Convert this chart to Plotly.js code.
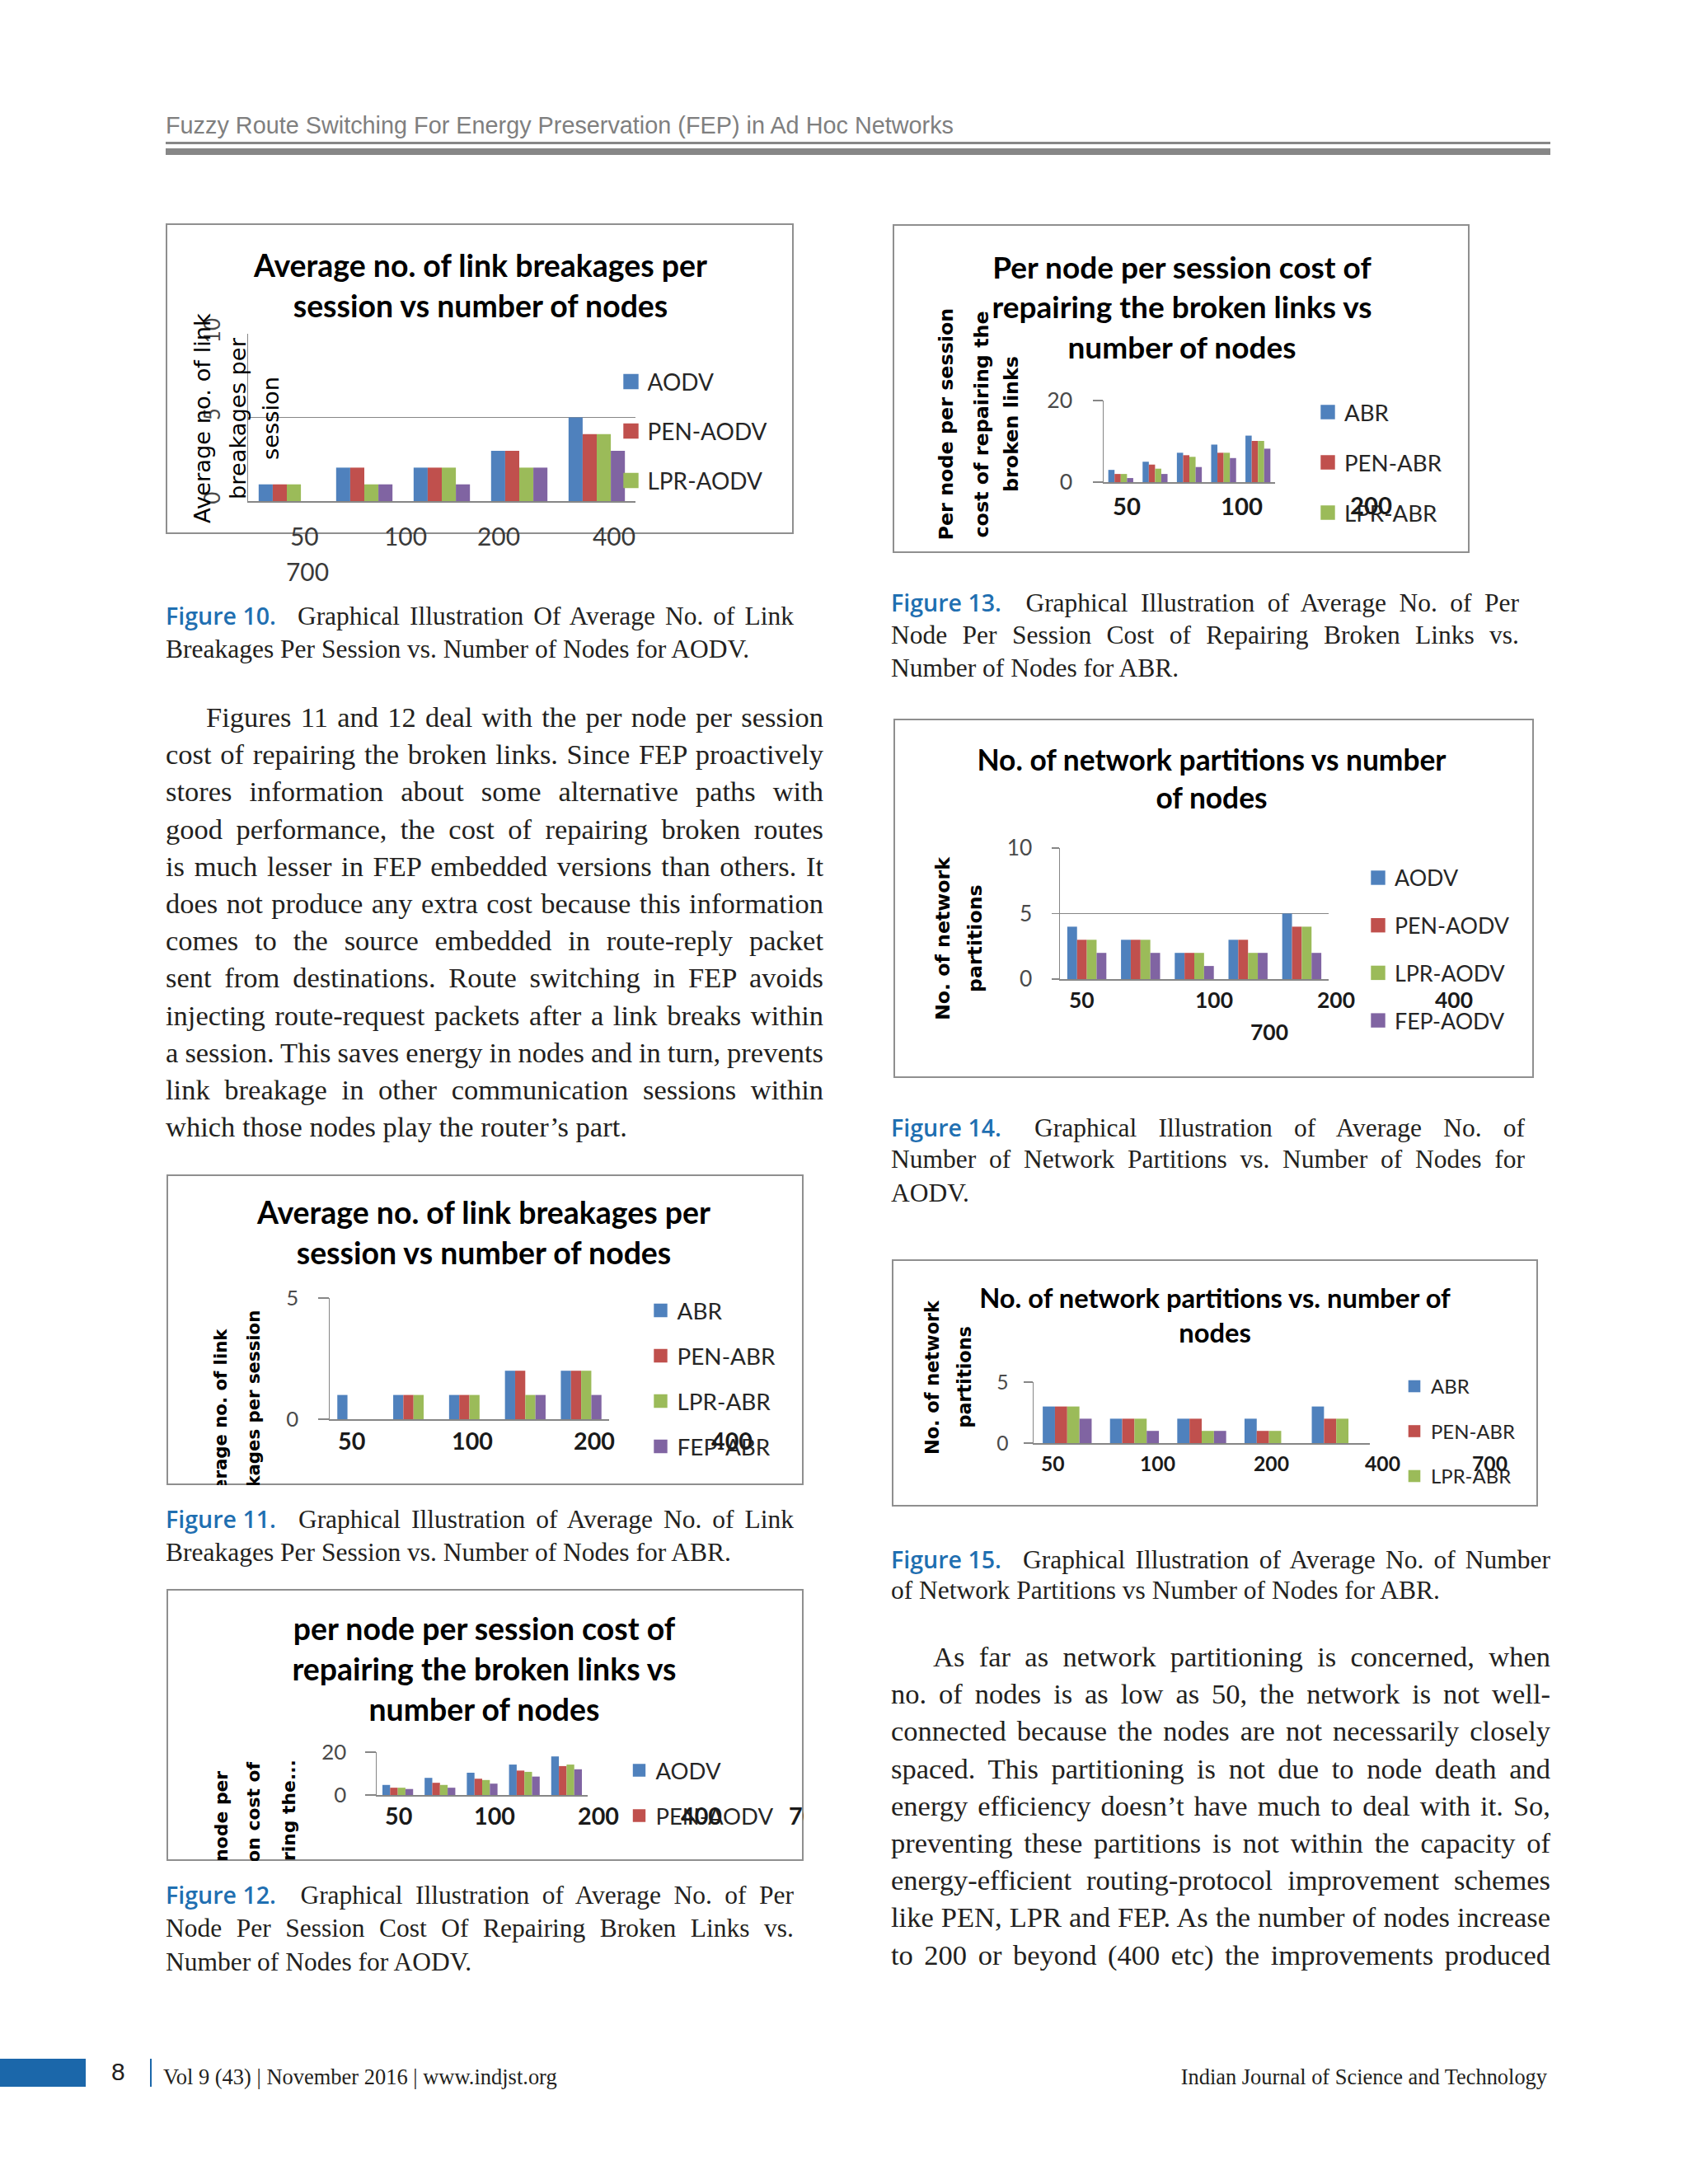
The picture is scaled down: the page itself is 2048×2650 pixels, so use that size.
<!DOCTYPE html>
<html>
<head>
<meta charset="utf-8">
<script src="https://cdn.plot.ly/plotly-3.0.1.min.js"></script>
<style>
  html, body { margin:0; padding:0; background:#ffffff; }
  body { position:relative; width:2048px; height:2650px; overflow:hidden; }
  .box { position:absolute; border:2px solid #8f8f8f; box-sizing:border-box; background:#fff; }
  .chart { position:absolute; }
  .tl { position:absolute; white-space:nowrap; color:#231f20; }
  .fig { font-family:'Open Sans', sans-serif; font-weight:600; color:#1f6fb1; word-spacing:0; }
  .rule { position:absolute; background:#878787; }
</style>
</head>
<body>
<script>
// ---------------- DATA ----------------
const NODES = ['50', '100', '200', '400', '700'];
const AODV_NAMES = ['AODV', 'PEN-AODV', 'LPR-AODV', 'FEP-AODV'];
const ABR_NAMES  = ['ABR', 'PEN-ABR', 'LPR-ABR', 'FEP-ABR'];

// Figure 10: average no. of link breakages per session (AODV family)
const F10_AODV     = [1, 2, 2, 3, 5];
const F10_PEN_AODV = [1, 2, 2, 3, 4];
const F10_LPR_AODV = [1, 1, 2, 2, 4];
const F10_FEP_AODV = [0, 1, 1, 2, 3];
// Figure 11: average no. of link breakages per session (ABR family)
const F11_ABR     = [1, 1, 1, 2, 2];
const F11_PEN_ABR = [0, 1, 1, 2, 2];
const F11_LPR_ABR = [0, 1, 1, 1, 2];
const F11_FEP_ABR = [0, 0, 0, 1, 1];
// Figure 12: per node per session cost of repairing broken links (AODV family)
const F12_AODV     = [4.7, 8.0, 10.4, 14.2, 18.0];
const F12_PEN_AODV = [3.4, 5.7, 7.6, 11.4, 13.5];
const F12_LPR_AODV = [3.4, 4.7, 7.0, 10.8, 14.2];
const F12_FEP_AODV = [2.8, 3.4, 5.3, 8.6, 12.0];
// Figure 13: per node per session cost of repairing broken links (ABR family)
const F13_ABR     = [3.0, 5.0, 7.2, 9.2, 11.4];
const F13_PEN_ABR = [2.0, 4.3, 6.6, 7.2, 10.1];
const F13_LPR_ABR = [2.0, 3.3, 6.2, 7.2, 10.1];
const F13_FEP_ABR = [1.0, 2.0, 3.7, 5.9, 8.2];
// Figure 14: no. of network partitions (AODV family)
const F14_AODV     = [4, 3, 2, 3, 5];
const F14_PEN_AODV = [3, 3, 2, 3, 4];
const F14_LPR_AODV = [3, 3, 2, 2, 4];
const F14_FEP_AODV = [2, 2, 1, 2, 2];
// Figure 15: no. of network partitions (ABR family)
const F15_ABR     = [3, 2, 2, 2, 3];
const F15_PEN_ABR = [3, 2, 2, 1, 2];
const F15_LPR_ABR = [3, 2, 1, 1, 2];
const F15_FEP_ABR = [2, 1, 1, 0, 0];

// ---------------- PAGE TEXT ----------------
const HEADER_TEXT = 'Fuzzy Route Switching For Energy Preservation (FEP) in Ad Hoc Networks';
const LEFT_PARA = [
  'Figures 11 and 12 deal with the per node per session',
  'cost of repairing the broken links. Since FEP proactively',
  'stores information about some alternative paths with',
  'good performance, the cost of repairing broken routes',
  'is much lesser in FEP embedded versions than others. It',
  'does not produce any extra cost because this information',
  'comes to the source embedded in route-reply packet',
  'sent from destinations. Route switching in FEP avoids',
  'injecting route-request packets after a link breaks within',
  'a session. This saves energy in nodes and in turn, prevents',
  'link breakage in other communication sessions within',
  'which those nodes play the router\u2019s part.'
];
const RIGHT_PARA = [
  'As far as network partitioning is concerned, when',
  'no. of nodes is as low as 50, the network is not well-',
  'connected because the nodes are not necessarily closely',
  'spaced. This partitioning is not due to node death and',
  'energy efficiency doesn\u2019t have much to deal with it. So,',
  'preventing these partitions is not within the capacity of',
  'energy-efficient routing-protocol improvement schemes',
  'like PEN, LPR and FEP. As the number of nodes increase',
  'to 200 or beyond (400 etc) the improvements produced'
];
const CAPTIONS = [
  {x:201,  y:[749, 790], w:[762, null], fig:'Figure 10.',
   lines:['Graphical Illustration Of Average No. of Link', 'Breakages Per Session vs. Number of Nodes for AODV.']},
  {x:201,  y:[1845, 1886], w:[762, null], fig:'Figure 11.',
   lines:['Graphical Illustration of Average No. of Link', 'Breakages Per Session vs. Number of Nodes for ABR.']},
  {x:201,  y:[2301, 2342, 2383], w:[762, 762, null], fig:'Figure 12.',
   lines:['Graphical Illustration of Average No. of Per', 'Node Per Session Cost Of Repairing Broken Links vs.', 'Number of Nodes for AODV.']},
  {x:1081, y:[733, 773, 813], w:[762, 762, null], fig:'Figure 13.',
   lines:['Graphical Illustration of Average No. of Per', 'Node Per Session Cost of Repairing Broken Links vs.', 'Number of Nodes for ABR.']},
  {x:1081, y:[1370, 1409, 1450], w:[769, 769, null], fig:'Figure 14.',
   lines:['Graphical Illustration of Average No. of', 'Number of Network Partitions vs. Number of Nodes for', 'AODV.']},
  {x:1081, y:[1894, 1932], w:[800, null], fig:'Figure 15.',
   lines:['Graphical Illustration of Average No. of Number', 'of Network Partitions vs Number of Nodes for ABR.']}
];

// ---------------- STYLE / LAYOUT ----------------
const BAR_COLORS = ['#4F81BD', '#C0504D', '#9BBB59', '#8064A2'];
const GRID = '#868686';

// label positions: null = label falls outside the visible chart area (not drawn, as in the reference)
const CHARTS = [
  { id:'fig10', box:[201,271,762,377], div:[201,271,762,440], plot:[301,405,771,608],
    ymax:10, dtick:5, ticklen:0, tickangle:-90, tickStand:22, tickFit:null, tickSize:26,
    series:[F10_AODV, F10_PEN_AODV, F10_LPR_AODV, F10_FEP_AODV], names:AODV_NAMES, inLegend:[true,true,true,false],
    title:['Average no. of link breakages per','session vs number of nodes'], titleW:551, titleX:583, titleY:323,
    ytitle:{lines:['Average no. of link','breakages per','session'], xs:[245,288,328], yc:508, fit:['Average no. of link',255], weight:'normal'},
    xlab:{pos:[[369,650],[492,650],[605,650],[745,650],[373,693]], fit:52, weight:'normal', color:'#3a3a3a'},
    legend:{cx:765.5, y0:463, dy:60, fit:['PEN-AODV',145], half:9.2} },
  { id:'fig13', box:[1083,272,700,399], div:[1083,272,700,399], plot:[1339,486,1547,585],
    ymax:20, dtick:20, ticklen:12, tickStand:19, tickFit:['20',31],
    series:[F13_ABR, F13_PEN_ABR, F13_LPR_ABR, F13_FEP_ABR], names:ABR_NAMES, inLegend:[true,true,true,false],
    title:['Per node per session cost of','repairing the broken links vs','number of nodes'], titleW:461, titleX:1434, titleY:325,
    ytitle:{lines:['Per node per session','cost of repairing the','broken links'], xs:[1147.5,1190.5,1227], yc:515, fit:['Per node per session',282], weight:'bold'},
    xlab:{pos:[[1367,613],[1506,613],[1663,612],null,null], fit:51, weight:'bold', color:'#1a1a1a'},
    legend:{cx:1611, y0:500, dy:61, fit:['PEN-ABR',118], half:8.7} },
  { id:'fig14', box:[1084,872,777,436], div:[1084,872,777,436], plot:[1286,1029,1612,1188],
    ymax:10, dtick:5, ticklen:9, tickStand:18, tickFit:['10',30.6],
    series:[F14_AODV, F14_PEN_AODV, F14_LPR_AODV, F14_FEP_AODV], names:AODV_NAMES, inLegend:[true,true,true,true],
    title:['No. of network partitions vs number','of nodes'], titleW:571, titleX:1470, titleY:922,
    ytitle:{lines:['No. of network','partitions'], xs:[1144,1183], yc:1139, fit:['No. of network',198], weight:'bold'},
    xlab:{pos:[[1312,1213],[1473,1213],[1621,1213],[1764,1213],[1540,1252]], fit:46, weight:'bold', color:'#1a1a1a'},
    legend:{cx:1672, y0:1065, dy:57.7, fit:['PEN-AODV',139], half:8.7} },
  { id:'fig11', box:[202,1425,773,377], div:[202,1425,773,377], plot:[400,1575,739,1722],
    ymax:5, dtick:5, ticklen:13, tickStand:18, tickFit:['5',15],
    series:[F11_ABR, F11_PEN_ABR, F11_LPR_ABR, F11_FEP_ABR], names:ABR_NAMES, inLegend:[true,true,true,true],
    title:['Average no. of link breakages per','session vs number of nodes'], titleW:551, titleX:587, titleY:1472,
    ytitle:{lines:['Average no. of link','breakages per session'], xs:[266.5,307], yc:1725, fit:['kages per session',215], weight:'bold'},
    xlab:{pos:[[426,1748],[573,1748],[721,1748],[888,1748],null], fit:50, weight:'bold', color:'#1a1a1a'},
    legend:{cx:801.5, y0:1590, dy:55, fit:['PEN-ABR',119], half:8.2} },
  { id:'fig12', box:[202,1928,773,330], div:[202,1928,773,330], plot:[457,2126,713,2178],
    ymax:20, dtick:20, ticklen:13, tickStand:17, tickFit:['20',30],
    series:[F12_AODV, F12_PEN_AODV, F12_LPR_AODV, F12_FEP_AODV], names:AODV_NAMES, inLegend:[true,true,false,false],
    title:['per node per session cost of','repairing the broken links vs','number of nodes'], titleW:465, titleX:587.5, titleY:1977,
    ytitle:{lines:['Per node per','session cost of','repairing the...'], xs:[268,307,349.5], yc:2229, fit:['node per',110], weight:'bold'},
    xlab:{pos:[[483,2203],[600,2203],[726,2203],[851,2203],[982,2203]], fit:50, weight:'bold', color:'#1a1a1a'},
    legend:{cx:775.5, y0:2148, dy:55, fit:['AODV',79], half:7.7} },
  { id:'fig15', box:[1082,1528,784,300], div:[1082,1528,784,300], plot:[1254,1677,1662,1751],
    ymax:5, dtick:5, ticklen:11, tickStand:13, tickFit:['5',14.3],
    series:[F15_ABR, F15_PEN_ABR, F15_LPR_ABR, F15_FEP_ABR], names:ABR_NAMES, inLegend:[true,true,true,false],
    title:['No. of network partitions vs. number of','nodes'], titleW:574, titleX:1474, titleY:1575,
    ytitle:{lines:['No. of network','partitions'], xs:[1131,1169.5], yc:1671, fit:['No. of network',187], weight:'bold'},
    xlab:{pos:[[1277,1775],[1404,1775],[1542,1775],[1677,1775],[1807,1775]], fit:43, weight:'bold', color:'#1a1a1a'},
    legend:{cx:1716, y0:1682, dy:54.5, fit:['PEN-ABR',102], half:7.3} }
];

// ---------------- HELPERS ----------------
const cv = document.createElement('canvas').getContext('2d');
function fitSize(text, family, weight, target) {
  cv.font = weight + ' 100px ' + family;
  return 100 * target / cv.measureText(text).width;
}
function addDiv(cls, style, html) {
  const d = document.createElement('div');
  d.className = cls;
  Object.assign(d.style, style);
  if (html !== undefined) d.innerHTML = html;
  document.body.appendChild(d);
  return d;
}
function addLine(x, yc, target, html, family, size, lh) {
  const d = addDiv('tl', {left:x+'px', top:(yc - lh/2 - 0.07*size)+'px', fontFamily:family,
                          fontSize:size+'px', lineHeight:lh+'px'}, html);
  if (target) {
    const nat = d.getBoundingClientRect().width;
    const j = d.querySelector('.j');
    const n = (j.textContent.match(/ /g) || []).length;
    if (n) j.style.wordSpacing = ((target - nat) / n) + 'px';
  }
  return d;
}

// ---------------- HEADER / FOOTER ----------------
const hs = fitSize(HEADER_TEXT, "'Liberation Sans'", 'normal', 958);
addDiv('tl', {left:'201px', top:(162 - 0.8465*hs)+'px', fontFamily:'Liberation Sans', fontSize:hs+'px',
              lineHeight:hs+'px', color:'#7f7f7f'}, HEADER_TEXT);
addDiv('rule', {left:'201px', top:'172px', width:'1680px', height:'3px'});
addDiv('rule', {left:'201px', top:'180px', width:'1680px', height:'8px'});

addDiv('rule', {left:'0px', top:'2498px', width:'104px', height:'34px', background:'#1b67aa'});
addDiv('rule', {left:'182px', top:'2498px', width:'2px', height:'34px', background:'#1b67aa'});
addDiv('tl', {left:'135px', top:(2524 - 0.8465*30)+'px', fontFamily:'Liberation Sans', fontSize:'30px', lineHeight:'30px', color:'#231f20'}, '8');
const FOOT_L = 'Vol 9 (43) | November 2016 | www.indjst.org';
const FOOT_R = 'Indian Journal of Science and Technology';
const fl = fitSize(FOOT_L, "'Liberation Serif'", 'normal', 478);
const fr = fitSize(FOOT_R, "'Liberation Serif'", 'normal', 445);
addDiv('tl', {left:'198px', top:(2529 - 0.8375*fl)+'px', fontFamily:'Liberation Serif', fontSize:fl+'px', lineHeight:fl+'px'}, FOOT_L);
addDiv('tl', {right:(2048-1877)+'px', top:(2529 - 0.8375*fr)+'px', fontFamily:'Liberation Serif', fontSize:fr+'px', lineHeight:fr+'px'}, FOOT_R);

// ---------------- BODY TEXT ----------------
const BODY_SIZE = 34.5, BODY_LH = 45.2;
LEFT_PARA.forEach((s, k) => {
  const x = k === 0 ? 250 : 201;
  const target = k === LEFT_PARA.length - 1 ? null : 999 - x;
  addLine(x, 873 + BODY_LH*k, target, '<span class="j">' + s + '</span>', 'Liberation Serif', BODY_SIZE, BODY_LH);
});
RIGHT_PARA.forEach((s, k) => {
  const x = k === 0 ? 1132 : 1081;
  addLine(x, 2013 + BODY_LH*k, 1881 - x, '<span class="j">' + s + '</span>', 'Liberation Serif', BODY_SIZE, BODY_LH);
});
const CAP_SIZE = 31.5, CAP_LH = 40.5;
const figSize = fitSize('Figure 10.', "'Open Sans'", '600', 134);
CAPTIONS.forEach(c => {
  c.lines.forEach((s, k) => {
    let html = '<span class="j">' + s + '</span>';
    if (k === 0) html = '<span class="fig" style="font-size:' + figSize + 'px">' + c.fig +
                        '</span><span style="display:inline-block;width:14px"></span><span class="j"> ' + s + '</span>';
    addLine(c.x, c.y[k], c.w[k], html, 'Liberation Serif', CAP_SIZE, CAP_LH);
  });
});

// ---------------- CHARTS ----------------
function makeChart(c) {
  const [bx, by, bw, bh] = c.box;
  addDiv('box', {left:bx+'px', top:by+'px', width:bw+'px', height:bh+'px'});
  const [L, T, W, H] = c.div;
  const el = addDiv('chart', {left:L+'px', top:T+'px', width:W+'px', height:H+'px'});
  el.id = c.id;
  const [x0, y0, x1, y1] = c.plot;
  const pw = x1 - x0, ph = y1 - y0;
  const PX = X => (X - x0) / pw, PY = Y => (y1 - Y) / ph, CY = Y => 1 - (Y - T) / H;

  const traces = c.series.map((vals, i) => ({
    type:'bar', x:NODES, y:vals, name:c.names[i],
    marker:{color:BAR_COLORS[i], line:{width:0}},
    showlegend:c.inLegend[i], legendgroup:'g'+i, hoverinfo:'skip'
  }));

  const ann = [];
  const yt = c.ytitle;
  const ySize = fitSize(yt.fit[0], "'DejaVu Sans'", yt.weight, yt.fit[1]);
  yt.lines.forEach((s, i) => ann.push({
    text:s, xref:'paper', yref:'paper', x:PX(yt.xs[i]), y:PY(yt.yc), textangle:-90,
    showarrow:false, xanchor:'center', yanchor:'middle',
    font:{family:'DejaVu Sans', size:ySize, weight:yt.weight, color:'#000000'}
  }));
  const xl = c.xlab;
  const xSize = fitSize('100', 'Lato', xl.weight, xl.fit);
  NODES.forEach((s, i) => {
    const p = xl.pos[i];
    if (!p) return;
    ann.push({
      text:s, xref:'paper', yref:'paper', x:PX(p[0]), y:PY(p[1]),
      showarrow:false, xanchor:'center', yanchor:'middle',
      font:{family:'Lato', size:xSize, weight:xl.weight, color:xl.color}
    });
  });

  const tSize = fitSize(c.title[0], 'Lato', 'bold', c.titleW);
  const titleAnchor = c.titleY + 0.36 * tSize;
  const lg = c.legend;
  const lSize = fitSize(lg.fit[0], 'Lato', 'normal', lg.fit[1]);
  const itemH = 1.3 * lSize + 3;
  const legTop = lg.y0 - 5 - itemH / 2;
  const tickSize = c.tickFit ? fitSize(c.tickFit[0], 'Lato', 'normal', c.tickFit[1]) : c.tickSize;

  const layout = {
    width:W, height:H,
    margin:{l:x0-L, r:L+W-x1, t:y0-T, b:T+H-y1, pad:0, autoexpand:false},
    paper_bgcolor:'rgba(0,0,0,0)', plot_bgcolor:'rgba(0,0,0,0)',
    font:{family:'Lato', color:'#262626'},
    barmode:'group', bargap:1.5/5.5, bargroupgap:0,
    title:{text:c.title.join('<br>'), font:{family:'Lato', size:tSize, weight:'bold', color:'#000000'},
           xref:'paper', x:PX(c.titleX), xanchor:'center',
           yref:'container', y:CY(titleAnchor), yanchor:'top'},
    xaxis:{type:'category', range:[-0.5, 4.5], showticklabels:false, ticks:'', showgrid:false, zeroline:false,
           showline:true, linecolor:GRID, linewidth:1.5, fixedrange:true},
    yaxis:{range:[0, c.ymax], tick0:0, dtick:c.dtick, showgrid:true, gridcolor:GRID, gridwidth:1.5,
           zeroline:false, showline:true, linecolor:GRID, linewidth:1.5,
           ticks:c.ticklen ? 'outside' : '', ticklen:c.ticklen, tickwidth:1.5, tickcolor:GRID,
           tickangle:c.tickangle || 0, ticklabelstandoff:c.tickStand,
           tickfont:{family:'Lato', size:tickSize, color:'#4a4a4a'}, fixedrange:true},
    showlegend:true,
    legend:{x:PX(lg.cx - 20), xanchor:'left', xref:'paper', y:CY(legTop), yanchor:'top', yref:'container',
            maxheight:2000, orientation:'v', traceorder:'grouped', tracegroupgap:lg.dy - itemH,
            font:{family:'Lato', size:lSize, color:'#262626'}, bgcolor:'rgba(0,0,0,0)', borderwidth:0},
    annotations:ann
  };
  return Plotly.newPlot(el, traces, layout, {staticPlot:true, displayModeBar:false}).then(() => {
    const h = lg.half;
    el.querySelectorAll('.legendpoints path').forEach(p =>
      p.setAttribute('d', 'M' + h + ',' + h + 'H-' + h + 'V-' + h + 'H' + h + 'Z'));
  });
}
CHARTS.forEach(makeChart);
</script>
</body>
</html>
